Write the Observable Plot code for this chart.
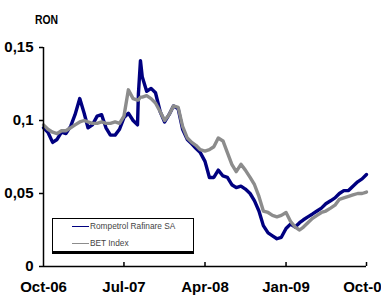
<!DOCTYPE html>
<html>
<head>
<meta charset="utf-8">
<script src="https://cdn.jsdelivr.net/npm/d3@7"></script>
<script src="https://cdn.jsdelivr.net/npm/@observablehq/plot@0.6"></script>
<style>
  html, body { margin: 0; padding: 0; background: #fff; }
  #wrap { position: relative; width: 381px; height: 295px; overflow: hidden; }
  #wrap svg { position: absolute; left: 0; top: 0; }
  .unit { position: absolute; left: 35px; top: 12px; font: bold 13px "Liberation Sans", Arial, sans-serif; color: #000; transform: scaleX(0.8); transform-origin: left top; }
  .legend { position: absolute; left: 52px; top: 218px; width: 140px; height: 32px; border: 1px solid #000; border-bottom: 3px solid #000; background: #fff; box-sizing: content-box; }
  .legend .item { position: absolute; left: 19px; height: 10px; font: 8.3px "Liberation Sans", Arial, sans-serif; color: #444; white-space: nowrap; }
  .legend .sw { display: inline-block; width: 17px; height: 0; border-top: 1px solid; vertical-align: middle; margin-right: 1px; }
</style>
</head>
<body>
<div id="wrap"></div>
<script>
const seriesNames = ["Rompetrol Rafinare SA", "BET Index"];
const seriesColors = ["#000080", "#8c8c8c"];
const unitLabel = "RON";
const xTickLabels = ["Oct-06", "Jul-07", "Apr-08", "Jan-09", "Oct-09"];
const xTickDates = ["2006-10-01", "2007-07-01", "2008-04-01", "2009-01-01", "2009-10-01"];
const yTicks = [0, 0.05, 0.1, 0.15];

const dates = [
  "2006-10-01","2006-10-16","2006-11-01","2006-11-16","2006-12-01","2006-12-16",
  "2007-01-01","2007-01-16","2007-02-01","2007-02-16","2007-03-01","2007-03-16",
  "2007-04-01","2007-04-16","2007-05-01","2007-05-16","2007-06-01","2007-06-16",
  "2007-07-01","2007-07-16","2007-08-01","2007-08-16","2007-08-19","2007-08-26",
  "2007-09-01","2007-09-16","2007-10-01","2007-10-16","2007-11-01","2007-11-16",
  "2007-12-01","2007-12-16","2008-01-01","2008-01-16","2008-02-01","2008-02-16",
  "2008-03-01","2008-03-16","2008-04-01","2008-04-16","2008-05-01","2008-05-16",
  "2008-06-01","2008-06-16","2008-07-01","2008-07-16","2008-08-01","2008-08-16",
  "2008-09-01","2008-09-16","2008-10-01","2008-10-16","2008-11-01","2008-11-16",
  "2008-12-01","2008-12-16","2009-01-01","2009-01-16","2009-02-01","2009-02-16",
  "2009-03-01","2009-03-16","2009-04-01","2009-04-16","2009-05-01","2009-05-16",
  "2009-06-01","2009-06-16","2009-07-01","2009-07-16","2009-08-01","2009-08-16",
  "2009-09-01","2009-09-16","2009-10-01"
];

const rompetrol = [
  .095,.092,.085,.087,.092,.091,.096,.104,.115,.105,
  .095,.097,.103,.104,.095,.090,.090,.094,.102,.105,
  .100,.097,.118,.141,
  .130,.120,.122,.119,.106,.099,.104,.110,.108,.094,
  .087,.084,.081,.078,.072,.061,.061,.066,.062,.061,
  .056,.054,.055,.053,.050,.045,.038,.028,.023,.021,
  .019,.020,.026,.029,.027,.030,.032,.034,.036,.038,
  .040,.043,.045,.047,.050,.052,.052,.055,.058,.060,
  .063
];

const bet = [
  .097,.094,.092,.091,.093,.093,.095,.097,.099,.100,
  .099,.098,.098,.099,.098,.098,.099,.098,.103,.121,
  .115,.114,.114,.116,
  .116,.117,.115,.112,.106,.100,.104,.110,.109,.096,
  .088,.085,.083,.080,.079,.080,.082,.088,.086,.078,
  .070,.065,.070,.066,.061,.056,.048,.038,.037,.035,
  .034,.035,.037,.031,.027,.025,.027,.030,.033,.035,
  .037,.038,.040,.042,.046,.047,.048,.049,.050,.050,
  .051
];

const parse = d3.utcParse("%Y-%m-%d");
const rows = [];
dates.forEach((d, i) => {
  rows.push({date: parse(d), value: rompetrol[i], series: seriesNames[0]});
});
dates.forEach((d, i) => {
  rows.push({date: parse(d), value: bet[i], series: seriesNames[1]});
});
const tickDates = xTickDates.map(parse);
const labelOf = new Map(tickDates.map((d, i) => [+d, xTickLabels[i]]));

const axisFont = '"Liberation Sans", Arial, sans-serif';

const chart = Plot.plot({
  width: 381,
  height: 295,
  marginLeft: 43,
  marginRight: 15,
  marginTop: 47,
  marginBottom: 29,
  style: {fontFamily: axisFont, fontWeight: "bold", background: "#fff", color: "#000", overflow: "visible"},
  x: {type: "utc", domain: [tickDates[0], tickDates[tickDates.length - 1]]},
  y: {domain: [0, 0.15]},
  color: {domain: seriesNames, range: seriesColors},
  marks: [
    Plot.line(rows, {x: "date", y: "value", z: "series", stroke: "series", strokeWidth: 3.4, strokeLinejoin: "round", strokeLinecap: "round"}),
    Plot.ruleY([0], {stroke: "#000", strokeWidth: 1.5}),
    Plot.ruleX([tickDates[0]], {stroke: "#000", strokeWidth: 1.5}),
    Plot.axisY({ticks: yTicks, tickSize: 4, tickPadding: 6, fontSize: 15, strokeWidth: 1.5, label: null,
      tickFormat: d => String(d).replace(".", ",")}),
    Plot.axisX({ticks: tickDates.slice(1), tickSize: -4, text: null, strokeWidth: 1.5, label: null}),
    Plot.axisX({ticks: tickDates, tickSize: 0, tickPadding: 15, fontSize: 15, label: null,
      tickFormat: d => labelOf.get(+d), ariaLabel: "x-labels"})
  ]
});

// horizontally condense the date labels (the reference uses a narrow face)
chart.querySelectorAll('g[aria-label="x-labels"] text').forEach(t => {
  const tr = t.getAttribute("transform") || "";
  t.setAttribute("transform", tr + " scale(0.8,1)");
});

const wrap = document.getElementById("wrap");
wrap.appendChild(chart);

const unit = document.createElement("div");
unit.className = "unit";
unit.textContent = unitLabel;
wrap.appendChild(unit);

const legend = document.createElement("div");
legend.className = "legend";
seriesNames.forEach((name, i) => {
  const item = document.createElement("div");
  item.className = "item";
  item.style.top = (i === 0 ? 2 : 19) + "px";
  const sw = document.createElement("span");
  sw.className = "sw";
  sw.style.borderTopColor = seriesColors[i];
  item.appendChild(sw);
  item.appendChild(document.createTextNode(name));
  legend.appendChild(item);
});
wrap.appendChild(legend);
</script>
</body>
</html>
